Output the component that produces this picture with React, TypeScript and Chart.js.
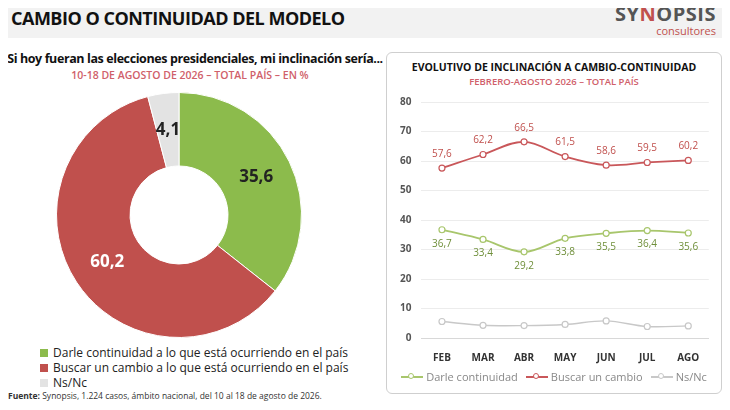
import { useEffect, useRef } from "react";
import { Chart, registerables } from "chart.js";

Chart.register(...registerables);

// ── Data ───────────────────────────────────────────────────────────────────
const PIE_LABELS = [
  "Darle continuidad a lo que está ocurriendo en el país",
  "Buscar un cambio a lo que está ocurriendo en el país",
  "Ns/Nc",
];
const PIE_VALUES = [35.6, 60.2, 4.1];
const PIE_COLORS = ["#8cbb4c", "#c0504d", "#e3e3e3"];

const MONTHS = ["FEB", "MAR", "ABR", "MAY", "JUN", "JUL", "AGO"];
const CONTINUIDAD = [36.7, 33.4, 29.2, 33.8, 35.5, 36.4, 35.6];
const CAMBIO = [57.6, 62.2, 66.5, 61.5, 58.6, 59.5, 60.2];
const NSNC = [5.6, 4.3, 4.2, 4.6, 5.8, 3.9, 4.1];
const Y_TICKS = [0, 10, 20, 30, 40, 50, 60, 70, 80];
const LINE_NAMES = ["Darle continuidad", "Buscar un cambio", "Ns/Nc"];
const LINE_COLORS = ["#a8c66c", "#c9575a", "#c8c8c8"];

const FONT = "'Open Sans', 'Noto Sans', sans-serif";
const fmt = (v: number) => v.toFixed(1).replace(".", ",");

// ── Label plugins ──────────────────────────────────────────────────────────
const pieLabels = {
  id: "pieLabels",
  afterDatasetsDraw(chart: any) {
    const { ctx } = chart;
    const meta = chart.getDatasetMeta(0);
    ctx.save();
    ctx.font = `bold 17px ${FONT}`;
    ctx.textAlign = "center";
    ctx.textBaseline = "middle";
    meta.data.forEach((arc: any, i: number) => {
      const p = arc.tooltipPosition();
      ctx.fillStyle = i === 1 ? "#fff" : "#222";
      ctx.fillText(fmt(PIE_VALUES[i]), p.x, p.y);
    });
    ctx.restore();
  },
};

const lineLabels = {
  id: "lineLabels",
  afterDatasetsDraw(chart: any) {
    const { ctx } = chart;
    ctx.save();
    ctx.font = `10px ${FONT}`;
    ctx.textAlign = "center";
    ctx.textBaseline = "middle";
    [0, 1].forEach((di) => {
      const meta = chart.getDatasetMeta(di);
      const vals = di === 0 ? CONTINUIDAD : CAMBIO;
      ctx.fillStyle = di === 0 ? "#6f8f3a" : "#c0504d";
      meta.data.forEach((pt: any, i: number) => {
        ctx.fillText(fmt(vals[i]), pt.x, pt.y + (di === 0 ? 14 : -14));
      });
    });
    ctx.restore();
  },
};

// ── Page ───────────────────────────────────────────────────────────────────
export default function App() {
  const pieRef = useRef<HTMLCanvasElement>(null);
  const lineRef = useRef<HTMLCanvasElement>(null);

  useEffect(() => {
    if (!pieRef.current || !lineRef.current) return;
    const pie = new Chart(pieRef.current, {
      type: "doughnut",
      data: {
        labels: PIE_LABELS,
        datasets: [{ data: PIE_VALUES, backgroundColor: PIE_COLORS, borderWidth: 1, borderColor: "#fff" }],
      },
      options: {
        animation: false,
        responsive: false,
        cutout: "40%",
        layout: { padding: 0 },
        plugins: { legend: { display: false }, tooltip: { enabled: false } },
      },
      plugins: [pieLabels],
    });

    const ds = (i: number, data: number[], width: number) => ({
      label: LINE_NAMES[i],
      data,
      borderColor: LINE_COLORS[i],
      pointBorderColor: LINE_COLORS[i],
      pointBackgroundColor: "#fff",
      pointRadius: 3,
      pointBorderWidth: 1.2,
      borderWidth: width,
      tension: 0.35,
    });

    const line = new Chart(lineRef.current, {
      type: "line",
      data: {
        labels: MONTHS,
        datasets: [ds(0, CONTINUIDAD, 1.8), ds(1, CAMBIO, 1.8), ds(2, NSNC, 1.4)],
      },
      options: {
        animation: false,
        responsive: false,
        layout: { padding: { right: 0, top: 4 } },
        scales: {
          y: {
            min: 0,
            max: 80,
            afterBuildTicks: (axis: any) => { axis.ticks = Y_TICKS.map((v) => ({ value: v })); },
            grid: { color: "#ececec", drawTicks: false },
            border: { display: false },
            ticks: { color: "#555", font: { family: FONT, size: 10, weight: "bold" }, padding: 10 },
          },
          x: {
            offset: true,
            grid: { display: false },
            border: { color: "#d8d8d8" },
            ticks: { color: "#333", font: { family: FONT, size: 10, weight: "bold" }, padding: 6 },
          },
        },
        plugins: { tooltip: { enabled: false }, legend: { display: false } },
      },
      plugins: [lineLabels],
    });

    return () => { pie.destroy(); line.destroy(); };
  }, []);

  return (
    <div style={{ position: "relative", width: 730, height: 410, margin: -8, background: "#fff", fontFamily: FONT, overflow: "hidden" }}>
      {/* Header */}
      <div style={{ position: "absolute", left: 0, top: 0, width: 730, height: 38, background: "#f2f2f2" }} />
      <div style={{ position: "absolute", left: 11, top: 6, fontSize: 18, fontWeight: 700, color: "#111", letterSpacing: "-0.5px" }}>
        CAMBIO O CONTINUIDAD DEL MODELO
      </div>
      <div style={{ position: "absolute", right: 14, top: 4, textAlign: "right", lineHeight: 1 }}>
        <div style={{ fontSize: 20, fontWeight: 700, color: "#555", letterSpacing: "0.5px" }}>
          SY<span style={{ color: "#c0504d" }}>N</span>OPSIS
        </div>
        <div style={{ fontSize: 11, color: "#c0504d", marginTop: 1 }}>consultores</div>
      </div>

      {/* Left titles */}
      <div style={{ position: "absolute", left: 0, width: 390, top: 50, textAlign: "center", fontSize: 12.5, fontWeight: 700, color: "#111", letterSpacing: "-0.4px", whiteSpace: "nowrap" }}>
        Si hoy fueran las elecciones presidenciales, mi inclinación sería...
      </div>
      <div style={{ position: "absolute", left: 0, width: 380, top: 68, textAlign: "center", fontSize: 10.5, fontWeight: 600, color: "#d0606a", whiteSpace: "nowrap" }}>
        10-18 DE AGOSTO DE 2026 – TOTAL PAÍS – EN %
      </div>

      <canvas ref={pieRef} width={246} height={246} style={{ position: "absolute", left: 56, top: 92, width: 246, height: 246 }} />

      {/* Pie legend */}
      <div style={{ position: "absolute", left: 40, top: 345, fontSize: 12, color: "#222", lineHeight: "15px" }}>
        {PIE_LABELS.map((l, i) => (
          <div key={l} style={{ display: "flex", alignItems: "center", gap: 5 }}>
            <span style={{ width: 8, height: 8, background: PIE_COLORS[i], display: "inline-block" }} />
            {l}
          </div>
        ))}
      </div>

      <div style={{ position: "absolute", left: 8, top: 390, fontSize: 8.5, lineHeight: "12px", color: "#333", whiteSpace: "nowrap" }}>
        <b>Fuente:</b> Synopsis, 1.224 casos, ámbito nacional, del 10 al 18 de agosto de 2026.
      </div>

      {/* Right panel */}
      <div style={{ position: "absolute", left: 386, top: 52, width: 334, height: 340, border: "1px solid #cfcfcf", borderRadius: 6, background: "#fff" }} />
      <div style={{ position: "absolute", left: 386, width: 336, top: 60, textAlign: "center", fontSize: 10.5, fontWeight: 700, color: "#111" }}>
        EVOLUTIVO DE INCLINACIÓN A CAMBIO-CONTINUIDAD
      </div>
      <div style={{ position: "absolute", left: 386, width: 336, top: 75, textAlign: "center", fontSize: 9.5, fontWeight: 600, color: "#d0606a" }}>
        FEBRERO-AGOSTO 2026 – TOTAL PAÍS
      </div>
      <canvas ref={lineRef} width={324} height={284} style={{ position: "absolute", left: 390, top: 86, width: 324, height: 284 }} />

      {/* Line legend */}
      <div style={{ position: "absolute", left: 386, width: 336, top: 369, display: "flex", justifyContent: "center", gap: 8, fontSize: 11, color: "#888" }}>
        {LINE_NAMES.map((n, i) => (
          <div key={n} style={{ display: "flex", alignItems: "center", gap: 3 }}>
            <span style={{ position: "relative", width: 22, height: 2, background: LINE_COLORS[i], display: "inline-block" }}>
              <span style={{ position: "absolute", left: 7, top: -3, width: 6, height: 6, borderRadius: "50%", border: `1.2px solid ${LINE_COLORS[i]}`, background: "#fff", boxSizing: "border-box" }} />
            </span>
            {n}
          </div>
        ))}
      </div>
    </div>
  );
}
